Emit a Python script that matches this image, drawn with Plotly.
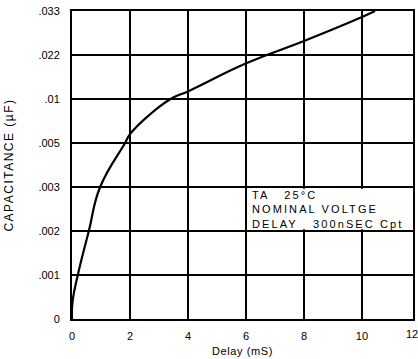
import numpy as np
import plotly.graph_objects as go

# Data
delay_ms = [0, 0.02, 0.2, 0.58, 0.97, 1.83, 2.0, 2.62, 3.4, 4.03, 6.03, 8.0, 10.0, 10.45]
capacitance_uf = [0, 0.0004, 0.001, 0.002, 0.003, 0.005, 0.006, 0.00805, 0.01, 0.0122,
                  0.0198, 0.0255, 0.0315, 0.033]

y_tick_values = [0, 0.001, 0.002, 0.003, 0.005, 0.01, 0.022, 0.033]
y_tick_labels = ["0", ".001", ".002", ".003", ".005", ".01", ".022", ".033"]
x_tick_values = [0, 2, 4, 6, 8, 10]
x_tick_labels = ["0", "2", "4", "6", "8", "10"]
x_last_label = "12"

note_lines = ["TA   25°C", "NOMINAL VOLTGE", "DELAY   300nSEC Cpt"]

# The chart's y scale places the listed capacitances at equal steps
y_pos = np.interp(capacitance_uf, y_tick_values, np.arange(len(y_tick_values)))

font = "Liberation Sans, Arial, sans-serif"


def spaced(text, px):
    return f'<span style="letter-spacing:{px}px">{text}</span>'


fig = go.Figure()
fig.add_trace(go.Scatter(x=delay_ms, y=y_pos, mode="lines",
                         line=dict(color="black", width=2.2, shape="spline", smoothing=1.3),
                         hoverinfo="skip", showlegend=False))

fig.add_shape(type="rect", x0=6.06, x1=11.7, y0=2.04, y1=2.96, xref="x", yref="y",
              fillcolor="white", line=dict(width=0), layer="between")

fig.add_annotation(x=6.15, y=2.5, xref="x", yref="y", xanchor="left", yanchor="middle",
                   text="<br>".join(spaced(t, 2.1) for t in note_lines),
                   showarrow=False, align="left",
                   font=dict(family=font, size=11, color="black"))

fig.add_annotation(x=1.0, y=0, xref="paper", yref="paper", xanchor="right", yanchor="top",
                   xshift=7, yshift=-7, text=x_last_label, showarrow=False,
                   font=dict(family=font, size=11, color="black"))

fig.update_xaxes(range=[0, 11.76], tickvals=x_tick_values, ticktext=x_tick_labels,
                 showgrid=True, gridcolor="black", gridwidth=1.7,
                 showline=True, linecolor="black", linewidth=2, mirror=True,
                 ticks="", zeroline=False, automargin=False, ticklabelstandoff=6,
                 title=dict(text=spaced("Delay (mS)", 0.6), standoff=6,
                            font=dict(family=font, size=11, color="black")),
                 tickfont=dict(family=font, size=11, color="black"))
fig.update_yaxes(range=[0, 7], tickvals=list(range(len(y_tick_values))), ticktext=y_tick_labels,
                 showgrid=True, gridcolor="black", gridwidth=1.7,
                 showline=True, linecolor="black", linewidth=2, mirror=True,
                 ticks="", zeroline=False, automargin=False, ticklabelstandoff=8,
                 title=dict(text=spaced("CAPACITANCE (µF)", 1.5), standoff=22,
                            font=dict(family=font, size=12, color="black")),
                 tickfont=dict(family=font, size=11, color="black"))

fig.update_layout(width=418, height=359, margin=dict(l=72, r=5, t=11, b=40),
                  paper_bgcolor="white", plot_bgcolor="white")

fig.write_html("out.html", config={"displayModeBar": False},
               post_script="document.body.style.margin='0';")
